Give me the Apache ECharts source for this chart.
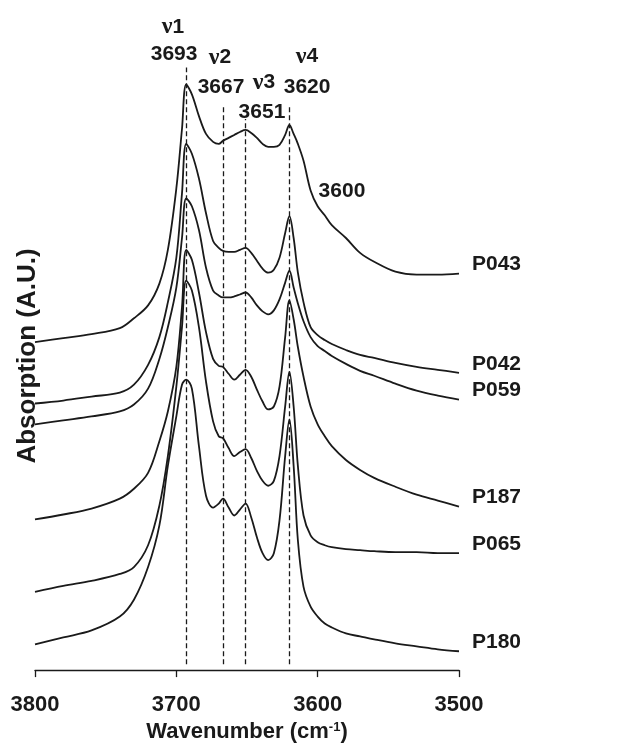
<!DOCTYPE html>
<html>
<head>
<meta charset="utf-8">
<script src="https://cdn.jsdelivr.net/npm/echarts@6/dist/echarts.min.js"></script>
<style>
  html, body { margin: 0; padding: 0; background: #fff; }
  #main { width: 617px; height: 748px; }
</style>
</head>
<body>
<div id="main"></div>
<script>
// wavenumber grid (cm-1) at the same positions for every spectrum
var wavenumbers = [3800, 3780, 3760, 3740, 3730, 3720, 3712, 3706, 3700, 3696, 3693, 3689, 3684, 3679,
  3674, 3670, 3667, 3663, 3659, 3655, 3651, 3647, 3643, 3639, 3635, 3631, 3627, 3623, 3620, 3617,
  3614, 3610, 3605, 3600, 3595, 3590, 3580, 3570, 3560, 3545, 3530, 3515, 3500];

// absorption, stacked offsets included (A.U.)
var P043 = [3.31, 3.35, 3.39, 3.45, 3.55, 3.68, 3.90, 4.24, 4.86, 5.46, 5.91, 5.81, 5.59, 5.41,
  5.33, 5.31, 5.34, 5.37, 5.40, 5.43, 5.45, 5.42, 5.37, 5.31, 5.28, 5.28, 5.30, 5.40, 5.50, 5.41,
  5.31, 5.14, 4.84, 4.68, 4.59, 4.49, 4.36, 4.21, 4.12, 4.02, 3.99, 3.99, 4.00];
var P042 = [2.69, 2.72, 2.76, 2.80, 2.88, 3.08, 3.36, 3.71, 4.16, 4.81, 5.31, 5.21, 4.96, 4.61,
  4.33, 4.26, 4.23, 4.22, 4.22, 4.24, 4.26, 4.21, 4.13, 4.05, 4.01, 4.04, 4.16, 4.41, 4.58, 4.36,
  4.01, 3.71, 3.46, 3.38, 3.33, 3.29, 3.23, 3.18, 3.15, 3.10, 3.06, 3.03, 3.00];
var P059 = [2.48, 2.52, 2.56, 2.61, 2.68, 2.84, 3.14, 3.46, 3.86, 4.36, 4.76, 4.68, 4.44, 4.06,
  3.83, 3.78, 3.76, 3.76, 3.77, 3.79, 3.81, 3.76, 3.68, 3.62, 3.59, 3.63, 3.74, 3.91, 4.03, 3.86,
  3.70, 3.52, 3.36, 3.27, 3.22, 3.17, 3.09, 3.02, 2.97, 2.89, 2.82, 2.77, 2.73];
var P187 = [1.52, 1.57, 1.63, 1.73, 1.83, 1.99, 2.31, 2.61, 3.06, 3.66, 4.24, 4.14, 3.81, 3.41,
  3.14, 3.07, 3.06, 2.99, 2.93, 2.98, 3.03, 2.96, 2.83, 2.71, 2.63, 2.66, 2.86, 3.36, 3.73, 3.54,
  3.26, 2.96, 2.66, 2.48, 2.36, 2.26, 2.12, 2.02, 1.94, 1.85, 1.77, 1.71, 1.65];
var P065 = [0.79, 0.85, 0.90, 0.97, 1.04, 1.26, 1.66, 2.16, 2.86, 3.46, 3.93, 3.83, 3.46, 2.91,
  2.51, 2.36, 2.34, 2.24, 2.16, 2.20, 2.23, 2.14, 2.01, 1.91, 1.86, 1.91, 2.16, 2.66, 3.01, 2.66,
  2.06, 1.56, 1.36, 1.29, 1.26, 1.24, 1.22, 1.21, 1.20, 1.19, 1.19, 1.18, 1.18];
var P180 = [0.26, 0.33, 0.40, 0.54, 0.71, 1.04, 1.46, 2.06, 2.56, 2.88, 2.93, 2.84, 2.26, 1.76,
  1.64, 1.68, 1.73, 1.64, 1.56, 1.62, 1.68, 1.54, 1.34, 1.18, 1.11, 1.18, 1.51, 2.16, 2.53, 2.06,
  1.31, 0.84, 0.64, 0.54, 0.47, 0.43, 0.37, 0.34, 0.31, 0.27, 0.24, 0.21, 0.19];

var sampleNames = ['P043', 'P042', 'P059', 'P187', 'P065', 'P180'];
var sampleValues = [P043, P042, P059, P187, P065, P180];

var xTicks = [3800, 3700, 3600, 3500];

// band positions and the top end of each dashed marker
var bandPositions = [3693, 3667, 3651, 3620];
var bandTops = [6.08, 5.69, 5.56, 5.69];

// annotation texts and where they sit
var annoTexts = ['ν1', '3693', 'ν2', '3667', 'ν3', '3651', 'ν4', '3620', '3600'];
var annoX = [3702.4, 3701.6, 3669.1, 3668.4, 3638, 3639.4, 3607.5, 3607.5, 3582.8];
var annoY = [6.49, 6.21, 6.18, 5.88, 5.93, 5.63, 6.19, 5.88, 4.83];

var ink = '#1a1a1a';
var sans = "'Liberation Sans', Arial, sans-serif";

var myChart = echarts.init(document.getElementById('main'));

var series = sampleNames.map(function (name, k) {
  var vals = sampleValues[k];
  return {
    name: name,
    type: 'line',
    data: wavenumbers.map(function (w, i) { return [w, vals[i]]; }),
    symbol: 'none',
    smooth: 0.35,
    lineStyle: { color: ink, width: 1.8 },
    markPoint: {
      silent: true,
      symbol: 'circle',
      symbolSize: 0,
      data: [{ name: name, coord: [wavenumbers[wavenumbers.length - 1], vals[vals.length - 1]] }],
      label: {
        show: true,
        position: 'right',
        distance: 13,
        offset: [0, -9],
        formatter: '{b}',
        color: ink,
        fontFamily: sans,
        fontWeight: 'bold',
        fontSize: 21
      }
    }
  };
});

series[0].markLine = {
  silent: true,
  symbol: ['none', 'none'],
  label: { show: false },
  lineStyle: { type: [5, 3], color: ink, width: 1.3 },
  data: bandPositions.map(function (b, i) {
    return [{ coord: [b, 0.06] }, { coord: [b, bandTops[i]] }];
  })
};

var annoLabel = {
  show: true,
  position: 'inside',
  offset: [0, 0],
  formatter: function (p) {
    var t = p.name;
    if (t.charAt(0) === 'ν') return '{g|ν}{n|' + t.slice(1) + '}';
    return '{n|' + t + '}';
  },
  rich: {
    g: { fontFamily: "'Liberation Serif', serif", fontSize: 24, color: ink },
    n: { fontFamily: sans, fontWeight: 'bold', fontSize: 21, color: ink }
  }
};
annoTexts.forEach(function (t, i) {
  series[0].markPoint.data.push({ name: t, coord: [annoX[i], annoY[i]], label: annoLabel });
});

var option = {
  animation: false,
  backgroundColor: '#fff',
  grid: { left: 35, right: 158, top: 16, bottom: 72 },
  xAxis: {
    type: 'value',
    inverse: true,
    min: 3500,
    max: 3800,
    interval: 100,
    name: 'Wavenumber (cm{sup|-1})',
    nameLocation: 'middle',
    nameGap: 47,
    nameTextStyle: {
      color: ink,
      fontFamily: sans,
      fontWeight: 'bold',
      fontSize: 22,
      rich: {
        sup: { fontFamily: sans, fontWeight: 'bold', fontSize: 13, verticalAlign: 'top', color: ink }
      }
    },
    axisLine: { lineStyle: { color: ink, width: 1.3 } },
    axisTick: { length: 7, lineStyle: { color: ink, width: 1.3 } },
    axisLabel: {
      color: ink,
      fontFamily: sans,
      fontWeight: 'bold',
      fontSize: 22,
      margin: 24,
      formatter: function (v) { return xTicks.indexOf(v) >= 0 ? String(v) : ''; }
    },
    splitLine: { show: false }
  },
  yAxis: {
    type: 'value',
    min: 0,
    max: 6.6,
    show: false
  },
  graphic: [{
    type: 'text',
    x: 28,
    y: 356,
    rotation: Math.PI / 2,
    style: {
      text: 'Absorption (A.U.)',
      fill: ink,
      font: 'bold 26px ' + sans,
      textAlign: 'center',
      textVerticalAlign: 'middle'
    }
  }],
  series: series
};

myChart.setOption(option);
</script>
</body>
</html>
